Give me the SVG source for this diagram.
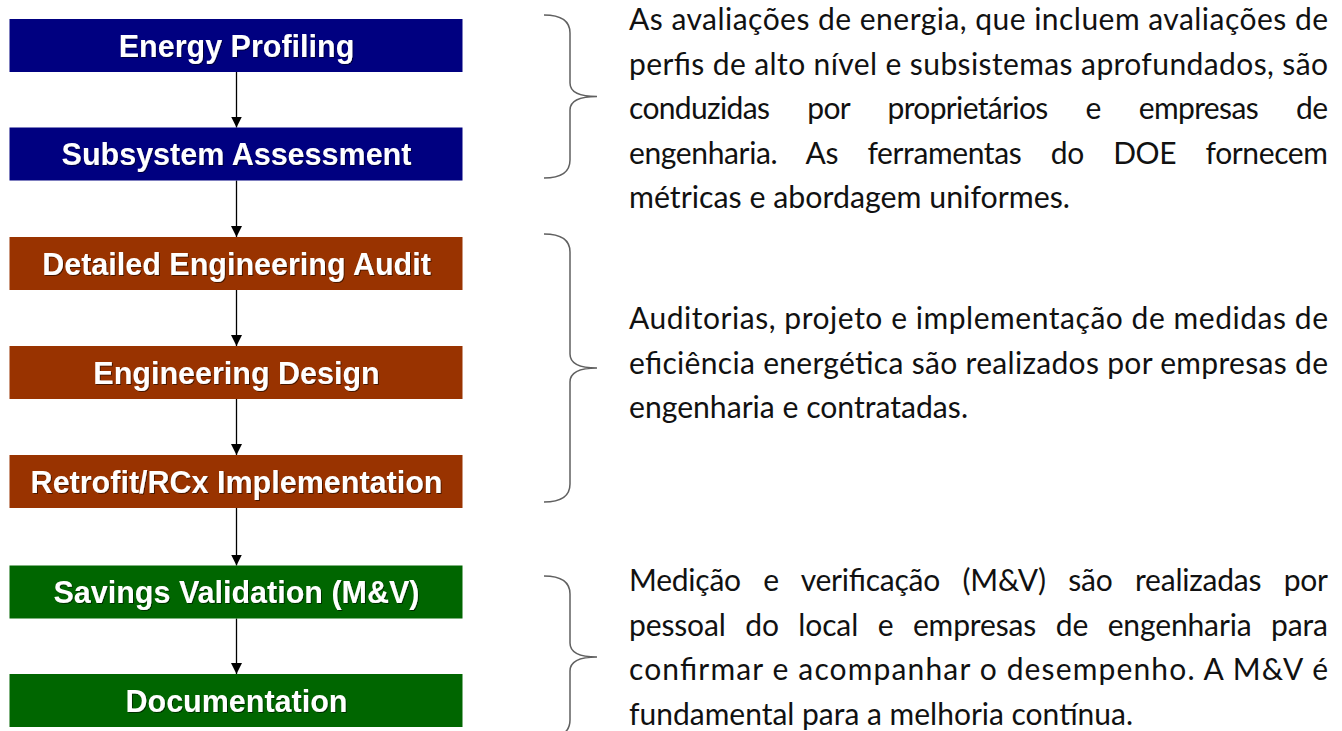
<svg xmlns="http://www.w3.org/2000/svg" width="1342" height="731" viewBox="0 0 1342 731">
<defs>
<filter id="sh" x="-5%" y="-20%" width="110%" height="140%">
<feDropShadow dx="1" dy="1" stdDeviation="0.6" flood-color="#000" flood-opacity="0.55"/>
</filter>
<marker id="ah" viewBox="0 0 10 10" refX="10" refY="5" markerWidth="11" markerHeight="11" markerUnits="userSpaceOnUse" orient="auto">
<path d="M0,0 L10,5 L0,10 Z" fill="#000"/>
</marker>
</defs>
<style>
.box-blue{fill:#000080}
.box-brown{fill:#993300}
.box-green{fill:#006600}
.lbl{font-family:"Liberation Sans",Arial,sans-serif;font-weight:bold;font-size:30.5px;fill:#fff;text-anchor:middle;filter:url(#sh)}
.conn{stroke:#000;stroke-width:1.3;fill:none;marker-end:url(#ah)}
.brace{stroke:#606060;stroke-width:1.5;fill:none}
.txt{font-family:Lato,"Open Sans",sans-serif;font-size:30px;fill:#111}
</style>
<rect width="1342" height="731" fill="#fff"/>

<g id="connectors">
<line class="conn" x1="236.5" y1="72" x2="236.5" y2="127.5"/>
<line class="conn" x1="236.5" y1="180.5" x2="236.5" y2="237"/>
<line class="conn" x1="236.5" y1="290" x2="236.5" y2="346"/>
<line class="conn" x1="236.5" y1="399" x2="236.5" y2="455"/>
<line class="conn" x1="236.5" y1="508" x2="236.5" y2="565.5"/>
<line class="conn" x1="236.5" y1="618.5" x2="236.5" y2="674"/>
</g>

<g id="node-energy-profiling">
<rect class="box-blue" x="9.5" y="19" width="453" height="53"/>
<text class="lbl" x="236.5" y="56.7">Energy Profiling</text>
</g>
<g id="node-subsystem-assessment">
<rect class="box-blue" x="9.5" y="127.5" width="453" height="53"/>
<text class="lbl" x="236.5" y="165.2">Subsystem Assessment</text>
</g>
<g id="node-detailed-engineering-audit">
<rect class="box-brown" x="9.5" y="237" width="453" height="53"/>
<text class="lbl" x="236.5" y="274.7">Detailed Engineering Audit</text>
</g>
<g id="node-engineering-design">
<rect class="box-brown" x="9.5" y="346" width="453" height="53"/>
<text class="lbl" x="236.5" y="383.7">Engineering Design</text>
</g>
<g id="node-retrofit">
<rect class="box-brown" x="9.5" y="455" width="453" height="53"/>
<text class="lbl" x="236.5" y="492.7">Retrofit/RCx Implementation</text>
</g>
<g id="node-savings-validation">
<rect class="box-green" x="9.5" y="565.5" width="453" height="53"/>
<text class="lbl" x="236.5" y="603.2">Savings Validation (M&amp;V)</text>
</g>
<g id="node-documentation">
<rect class="box-green" x="9.5" y="674" width="453" height="53"/>
<text class="lbl" x="236.5" y="711.7">Documentation</text>
</g>

<g id="braces">
<path class="brace" d="M544,15 C558,15 570,19 570,33 L570,83 C570,92 578,96.5 597,96.5 C578,96.5 570,101 570,110 L570,160 C570,174 558,178 544,178"/>
<path class="brace" d="M544,234 C558,234 570,238 570,252 L570,354 C570,363 578,368 597,368 C578,368 570,373 570,382 L570,484 C570,498 558,502 544,502"/>
<path class="brace" d="M544,576 C558,576 570,580 570,594 L570,643 C570,652 578,657 597,657 C578,657 570,662 570,671 L570,720 C570,734 558,738 544,738"/>
</g>

<g id="note-1">
<text class="txt" x="629" y="30" textLength="699" lengthAdjust="spacing">As avaliações de energia, que incluem avaliações de</text>
<text class="txt" x="629" y="74.5" textLength="699" lengthAdjust="spacing">perfis de alto nível e subsistemas aprofundados, são</text>
<text class="txt" x="629" y="119" style="word-spacing:31px" textLength="699" lengthAdjust="spacing">conduzidas por proprietários e empresas de</text>
<text class="txt" x="629" y="163.5" style="word-spacing:22px" textLength="699" lengthAdjust="spacing">engenharia. As ferramentas do DOE fornecem</text>
<text class="txt" x="629" y="208" textLength="441" lengthAdjust="spacingAndGlyphs">métricas e abordagem uniformes.</text>
</g>

<g id="note-2">
<text class="txt" x="629" y="329" textLength="699" lengthAdjust="spacing">Auditorias, projeto e implementação de medidas de</text>
<text class="txt" x="629" y="373.5" textLength="699" lengthAdjust="spacing">eficiência energética são realizados por empresas de</text>
<text class="txt" x="629" y="418" textLength="339" lengthAdjust="spacingAndGlyphs">engenharia e contratadas.</text>
</g>

<g id="note-3">
<text class="txt" x="629" y="591" style="word-spacing:15px" textLength="699" lengthAdjust="spacing">Medição e verificação (M&amp;V) são realizadas por</text>
<text class="txt" x="629" y="635.5" style="word-spacing:12px" textLength="699" lengthAdjust="spacing">pessoal do local e empresas de engenharia para</text>
<text class="txt" x="629" y="680" textLength="699" lengthAdjust="spacing">confirmar e acompanhar o desempenho. A M&amp;V é</text>
<text class="txt" x="629" y="724.5" textLength="504" lengthAdjust="spacingAndGlyphs">fundamental para a melhoria contínua.</text>
</g>
</svg>
